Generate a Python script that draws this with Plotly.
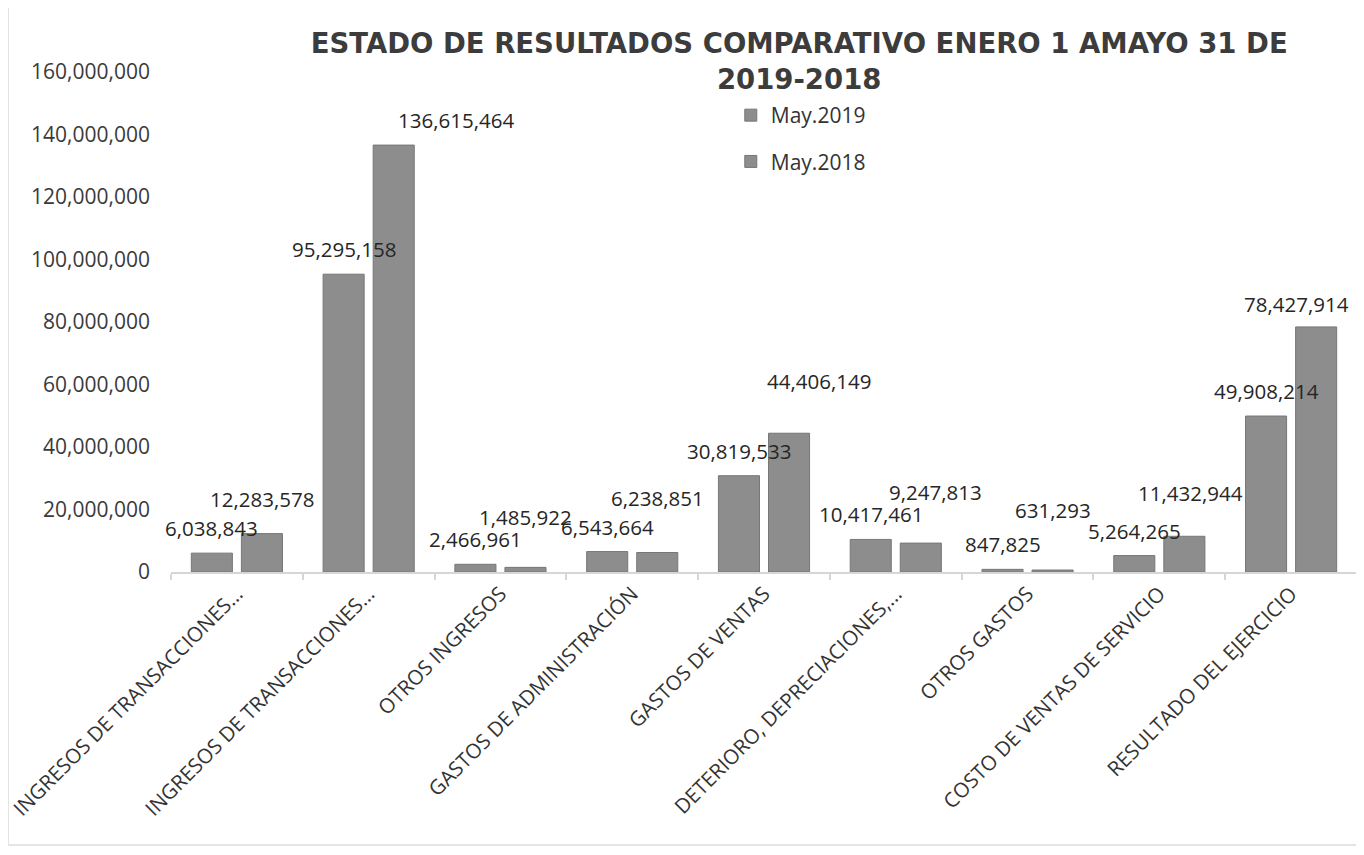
import plotly.graph_objects as go

categories = [
    "INGRESOS DE TRANSACCIONES...",
    "INGRESOS DE TRANSACCIONES...",
    "OTROS INGRESOS",
    "GASTOS DE ADMINISTRACIÓN",
    "GASTOS DE VENTAS",
    "DETERIORO, DEPRECIACIONES,...",
    "OTROS GASTOS",
    "COSTO DE VENTAS DE SERVICIO",
    "RESULTADO DEL EJERCICIO",
]
may_2019 = [6038843, 95295158, 2466961, 6543664, 30819533, 10417461, 847825, 5264265, 49908214]
may_2018 = [12283578, 136615464, 1485922, 6238851, 44406149, 9247813, 631293, 11432944, 78427914]
y_ticks = list(range(0, 160000001, 20000000))

# label nudges (pixels) mimicking the manually placed labels of the original
label_dx_2018 = [0, 62, 0, 0, 30, 15, 0, 6, -20]
label_dy_2018 = [35, 25, 50, 55, 52, 51, 60, 43, 23]

FONT = "Open Sans, Liberation Sans, sans-serif"
xs = list(range(len(categories)))
fig = go.Figure()
bar_color = "#8d8d8d"
fig.add_trace(go.Bar(name="May.2019", x=xs, y=may_2019, legendgroup="g1",
                     marker=dict(color=bar_color, line=dict(color="#777777", width=1))))
fig.add_trace(go.Bar(name="May.2018", x=xs, y=may_2018, legendgroup="g2",
                     marker=dict(color=bar_color, line=dict(color="#777777", width=1))))

annotations = []
for i, v in enumerate(may_2019):
    annotations.append(dict(x=i - 0.19, y=v, xref="x", yref="y", text=f"{v:,}", showarrow=False,
                            yanchor="middle", yshift=25,
                            font=dict(family=FONT, size=20.5, color="#262626")))
for i, v in enumerate(may_2018):
    annotations.append(dict(x=i + 0.19, y=v, xref="x", yref="y", text=f"{v:,}", showarrow=False,
                            yanchor="middle", yshift=label_dy_2018[i], xshift=label_dx_2018[i],
                            font=dict(family=FONT, size=20.5, color="#262626")))

fig.update_layout(
    width=1364, height=855,
    paper_bgcolor="white", plot_bgcolor="white",
    margin=dict(l=163, r=15, t=64, b=291),
    barmode="group", bargap=0.24, bargroupgap=0.18,
    title=dict(text="ESTADO DE RESULTADOS COMPARATIVO ENERO 1 AMAYO 31 DE<br>2019-2018",
               x=798 / 1364 - 0.005, xanchor="center", y=0.947, yanchor="top",
               font=dict(family="DejaVu Sans, Verdana, sans-serif", size=27.5, color="#3c3c3c", weight="bold")),
    legend=dict(x=0.472, y=0.954, xanchor="left", yanchor="top", orientation="v",
                bgcolor="rgba(0,0,0,0)", tracegroupgap=16,
                font=dict(family=FONT, size=21, color="#333333")),
    annotations=annotations,
    showlegend=True,
)
fig.update_xaxes(tickmode="array", tickvals=xs, ticktext=categories, tickangle=-45,
                 range=[-0.5, len(categories) - 0.5], automargin=False,
                 ticklabeloverflow="allow",
                 showgrid=False, showline=True, linecolor="#d6d6d6", linewidth=1.5,
                 ticks="", zeroline=False,
                 minor=dict(tickvals=[i - 0.5 for i in range(len(categories) + 1)], ticks="outside",
                            ticklen=6, tickcolor="#d6d6d6", tickwidth=1.5),
                 tickfont=dict(family=FONT, size=20.5, color="#333333"))
fig.update_yaxes(range=[0, 160000000], tickmode="array", tickvals=y_ticks,
                 ticktext=[f"{t:,}" for t in y_ticks], automargin=False,
                 showgrid=False, showline=False, zeroline=False, ticks="",
                 ticklabelstandoff=20,
                 tickfont=dict(family=FONT, size=21, color="#3a3a3a"))
for shp in [dict(x0=-0.1374, x1=-0.1374, y0=-0.546, y1=1.128),
            dict(x0=-0.1374, x1=1.0, y0=-0.546, y1=-0.546),
            dict(x0=1.0, x1=1.0, y0=-0.546, y1=1.128)]:
    fig.add_shape(type="line", xref="paper", yref="paper", line=dict(color="#dcdcdc", width=1.5), **shp)
fig.write_html("out.html")
